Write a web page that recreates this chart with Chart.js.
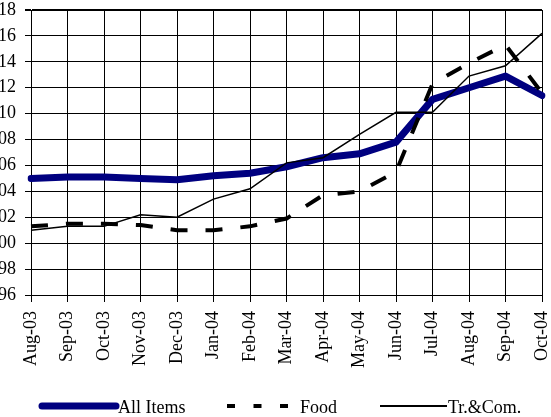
<!DOCTYPE html>
<html>
<head>
<meta charset="utf-8">
<script src="https://cdn.jsdelivr.net/npm/chart.js@4.4.1/dist/chart.umd.min.js"></script>
<style>
  body { margin: 0; background: #fff; }
  #wrap { width: 551px; height: 417px; position: relative; }
</style>
</head>
<body>
<div id="wrap"><canvas id="chart1"></canvas></div>
<script>
const months = ["Aug-03", "Sep-03", "Oct-03", "Nov-03", "Dec-03", "Jan-04", "Feb-04", "Mar-04",
                "Apr-04", "May-04", "Jun-04", "Jul-04", "Aug-04", "Sep-04", "Oct-04"]
const allItems = [105.0, 105.1, 105.1, 105.0, 104.9, 105.2, 105.4, 105.9, 106.6, 106.9, 107.8, 111.1, 112.0, 112.9, 111.4]
const food = [101.3, 101.5, 101.5, 101.4, 101.0, 101.0, 101.3, 101.9, 103.7, 104.0, 105.5, 112.3, 113.9, 115.3, 111.6]
const trCom = [101.0, 101.3, 101.3, 102.2, 102.0, 103.4, 104.2, 106.2, 106.6, 108.4, 110.1, 110.1, 112.9, 113.7, 116.2]
const yMin = 96
const yMax = 118
const yStep = 2

const serif = "'Liberation Serif', 'Times New Roman', serif"

// legend drawn by hand, Excel style: each item has its own sample length
const legendSpots = [
    {x1: 42, x2: 116, tx: 118, dash: []},
    {x1: 227, x2: 289, tx: 300, dash: [8, 18.5]},
    {x1: 380, x2: 447, tx: 448, dash: []}
]

const handLegend = {
    id: "handLegend",
    afterDraw(chart) {
        const ctx = chart.ctx
        const y = 406
        ctx.save()
        chart.data.datasets.forEach((ds, i) => {
            const s = legendSpots[i]
            ctx.beginPath()
            ctx.strokeStyle = ds.borderColor
            ctx.lineWidth = i === 2 ? 2 : ds.borderWidth
            ctx.lineCap = i === 0 ? "round" : "butt"
            ctx.setLineDash(s.dash)
            ctx.moveTo(s.x1, y)
            ctx.lineTo(s.x2, y)
            ctx.stroke()
            ctx.setLineDash([])
            ctx.fillStyle = "#000"
            ctx.font = "18px " + serif
            ctx.textAlign = "left"
            ctx.textBaseline = "middle"
            ctx.fillText(ds.label, s.tx, y + 2)
        })
        ctx.restore()
    }
}

new Chart(document.getElementById("chart1"), {
    type: "line",
    data: {
        labels: months,
        datasets: [
            {
                label: "All Items",
                data: allItems,
                borderColor: "#000080",
                borderWidth: 7,
                borderCapStyle: "round",
                borderJoinStyle: "round",
                order: 3
            },
            {
                label: "Food",
                data: food,
                borderColor: "#000",
                borderWidth: 4,
                borderDash: [17, 18],
                order: 2
            },
            {
                label: "Tr.&Com.",
                data: trCom,
                borderColor: "#000",
                borderWidth: 1.5,
                order: 1
            }
        ]
    },
    options: {
        responsive: true,
        maintainAspectRatio: false,
        animation: false,
        elements: {
            point: { radius: 0, hoverRadius: 0 },
            line: { tension: 0 }
        },
        layout: { padding: { top: 10, right: 9, left: 0, bottom: 0 } },
        plugins: {
            legend: { display: false },
            tooltip: { enabled: false }
        },
        scales: {
            x: {
                offset: false,
                grid: { color: "#000", lineWidth: 1, tickLength: 7, offset: false },
                border: { color: "#000", width: 1 },
                ticks: {
                    color: "#000",
                    font: { family: serif, size: 18, lineHeight: 1 },
                    minRotation: 90,
                    maxRotation: 90,
                    autoSkip: false,
                    padding: 9
                },
                afterFit: (scale) => {
                    scale.height = 122
                    scale.paddingLeft = 0
                    scale.paddingRight = 0
                }
            },
            y: {
                min: yMin,
                max: yMax,
                grid: {
                    color: "#000",
                    lineWidth: (c) => c.tick && c.tick.value === yMax ? 2 : 1,
                    tickLength: 6
                },
                border: { color: "#000", width: 1 },
                ticks: {
                    stepSize: yStep,
                    color: "#000",
                    font: { family: serif, size: 18, lineHeight: 1 },
                    padding: 9
                },
                afterFit: (scale) => {
                    scale.width = 31
                    scale.paddingTop = 0
                    scale.paddingBottom = 0
                }
            }
        }
    },
    plugins: [handLegend]
})
</script>
</body>
</html>
